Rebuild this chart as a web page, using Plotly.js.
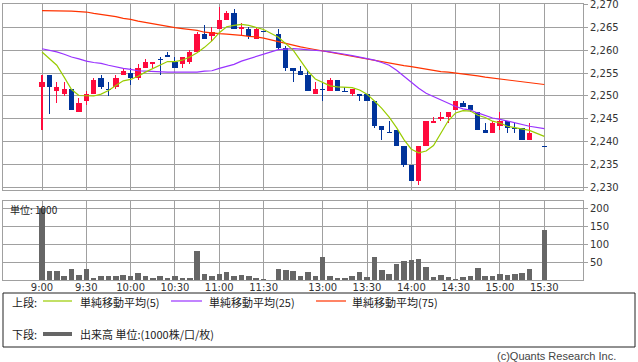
<!DOCTYPE html>
<html><head><meta charset="utf-8">
<script src="https://cdn.plot.ly/plotly-3.0.1.min.js"></script>
<style>html,body{margin:0;padding:0;background:#fff}#c{width:638px;height:362px}</style>
</head><body><div id="c"></div>
<script>
// 5-minute slots (index 31 = lunch gap, 15:25 = no trade)
const times = ['9:00','9:05','9:10','9:15','9:20','9:25','9:30','9:35','9:40','9:45',
 '9:50','9:55','10:00','10:05','10:10','10:15','10:20','10:25','10:30','10:35',
 '10:40','10:45','10:50','10:55','11:00','11:05','11:10','11:15','11:20','11:25',
 '11:30','12:25','12:30','12:35','12:40','12:45','12:50','12:55','13:00','13:05',
 '13:10','13:15','13:20','13:25','13:30','13:35','13:40','13:45','13:50','13:55',
 '14:00','14:05','14:10','14:15','14:20','14:25','14:30','14:35','14:40','14:45',
 '14:50','14:55','15:00','15:05','15:10','15:15','15:20','15:25','15:30'];
const tickLabels = ['9:00','9:30','10:00','10:30','11:00','11:30','13:00','13:30','14:00','14:30','15:00','15:30'];

const open = [2252,2254.5,2251,2250.5,2251.5,2246.5,2249,2250.5,2254,2251.5,
 2252,2254.5,2255,2254,2256,2257,2258,2259,2257.5,2257,
 2257.5,2259.5,2263.5,2263,2264.5,2266.5,2268,2264.5,2264.5,2262.5,
 2264,null,2263.5,2260.5,2256,2255.5,2254.5,2250.5,2251.5,2251,
 2253.5,2251,2250.5,2250.5,2250.5,2249,2243.5,2242,2242.5,2239,
 2235,2231.5,2239,2244,2245,2245.5,2247,2248.5,2248,2246.5,
 2242.5,2242,2243.5,2244.5,2243,2243,2240.5,null,2239];
const high = [2254.5,2254.5,2253,2253,2251.5,2249.5,2251,2254,2254.5,2253,
 2254.5,2256,2256,2257,2258,2257.5,2258.5,2259.5,2258.5,2258.5,
 2260,2264,2265.5,2265,2269.5,2268.5,2269,2266,2265,2265,
 2264,null,2264.5,2261,2256,2256.5,2255.5,2253,2253,2254,
 2253.5,2252,2251.5,2250.5,2250.5,2249,2243.5,2244.5,2242.5,2239,
 2235,2239,2244.5,2245.5,2246.5,2246.5,2249,2249,2248,2246.5,
 2244,2244.5,2246.5,2244.5,2244,2243,2244,null,2239];
const low = [2242.5,2246,2248.5,2250,2247,2246.5,2248,2250.5,2251.5,2250,
 2251.5,2254.5,2252.5,2253.5,2256,2256,2254.5,2258.5,2256,2256,
 2257,2259.5,2262.5,2262,2264.5,2266.5,2264.5,2263,2262.5,2262.5,
 2264,null,2260,2255.5,2253,2254.5,2251,2250.5,2249,2251,
 2251,2251,2250,2249,2249,2243,2240.5,2242,2239,2234.5,
 2231.5,2230.5,2239,2244,2244.5,2244,2247,2247.5,2246.5,2242.5,
 2242,2242,2242.5,2242,2242,2240.5,2240.5,null,2239];
const close = [2253,2252,2252,2251.5,2247,2248.5,2250.5,2253.5,2252,2251.5,
 2254,2255.5,2254,2256,2257.5,2257.5,2258,2258.5,2256,2258.5,
 2259.5,2263.5,2262.5,2264,2266.5,2268,2264.5,2265,2263,2264.5,
 2264,null,2260.5,2256,2255.5,2254.5,2251,2251.5,2251.5,2253.5,
 2251,2251,2251.5,2250,2249,2243.5,2242.5,2242,2239,2235,
 2231.5,2239,2244.5,2244.5,2245.5,2246.5,2249,2247.5,2247,2242.5,
 2242,2244,2244.5,2243,2243,2240.5,2242,null,2239];
const ma5 = [2259.6,2258.2,2256.7,2254.1,2251.4,2250.1,2250.0,2250.0,2250.4,2251.2,
 2252.3,2253.3,2253.6,2254.3,2255.2,2256.0,2256.7,2257.5,2257.5,2257.8,
 2258.5,2259.4,2260.6,2262.0,2263.8,2265.1,2265.4,2265.6,2265.4,2265.0,
 2264.5,null,2262.8,2261.5,2260.0,2257.7,2255.4,2253.7,2252.9,2252.2,
 2252.0,2251.9,2251.8,2251.3,2250.4,2248.9,2247.3,2245.4,2243.1,2240.5,
 2238.4,2237.6,2238.0,2239.2,2241.9,2244.6,2246.3,2246.8,2246.7,2245.8,
 2245.3,2244.5,2244.1,2243.4,2243.1,2242.8,2242.5,null,2241.2];
const ma25 = [2260.3,2260.0,2259.6,2259.1,2258.5,2258.1,2257.6,2257.3,2257.1,2256.7,
 2256.3,2256.0,2255.8,2255.5,2255.4,2255.3,2255.2,2255.2,2255.2,2255.2,
 2255.2,2255.2,2255.4,2255.5,2256.0,2256.5,2256.9,2257.6,2258.1,2258.7,
 2259.2,null,2260.1,2260.2,2260.3,2260.2,2260.1,2260.0,2259.8,2259.6,
 2259.4,2259.1,2258.8,2258.5,2258.2,2257.8,2257.3,2256.7,2255.6,2254.3,
 2252.8,2251.7,2250.6,2249.9,2249.2,2248.4,2247.7,2247.2,2246.9,2246.3,
 2245.8,2245.2,2244.9,2244.5,2244.1,2243.7,2243.4,null,2242.9];
const ma75 = [2268.6,2268.6,2268.6,2268.6,2268.5,2268.4,2268.3,2268.0,2267.8,2267.6,
 2267.3,2266.9,2266.7,2266.3,2266.0,2265.8,2265.4,2265.1,2264.9,2264.7,
 2264.5,2264.3,2263.9,2263.7,2263.6,2263.5,2263.4,2263.2,2263.0,2262.9,
 2262.6,null,2261.8,2261.4,2261.1,2260.7,2260.4,2260.1,2259.9,2259.5,
 2259.2,2258.9,2258.6,2258.3,2258.1,2257.8,2257.5,2257.2,2256.9,2256.6,
 2256.4,2256.1,2255.8,2255.5,2255.3,2255.2,2255.0,2254.9,2254.7,2254.4,
 2254.1,2253.9,2253.8,2253.6,2253.4,2253.2,2253.0,null,2252.5];
const volume = [203,26,26,12,32,15,32,7,10,10,
 10,15,10,20,10,7,10,7,10,6,
 6,82,18,12,17,23,12,14,10,5,
 2,null,30,29,26,10,23,12,65,12,
 6,6,12,23,9,65,29,18,46,54,
 57,60,37,9,15,9,4,9,12,34,
 12,12,17,14,17,19,32,null,141];
const priceTicks = [2230,2235,2240,2245,2250,2255,2260,2265,2270];
const volTicks = [50,100,150,200];

const RED = '#ff0a3c', BLUE = '#00339a', GRID = '#a0a0a0';
const MINH = 0.25;
const col = close.map((c,i)=> c==null ? null : (c > open[i] ? RED : BLUE));
const bodyBase = open.map((o,i)=>{ if(o==null) return null; const d=Math.abs(close[i]-o); const m=Math.min(o,close[i]); return d<MINH ? m-(MINH-d)/2 : m; });
const bodyLen = open.map((o,i)=> o==null ? null : Math.max(Math.abs(close[i]-o), MINH));
const wickLen = high.map((h,i)=> h==null ? null : h-low[i]);

const traces = [
 {type:'bar', x:times, y:wickLen, base:low, width:0.14, marker:{color:col, line:{width:0}}, xaxis:'x2', yaxis:'y2', hoverinfo:'skip'},
 {type:'bar', x:times, y:bodyLen, base:bodyBase, width:0.72, marker:{color:col, line:{width:0}}, xaxis:'x2', yaxis:'y2', hoverinfo:'skip'},
 {type:'scatter', mode:'lines', x:times, y:ma75, connectgaps:true, line:{color:'#ff3300', width:1.2}, xaxis:'x2', yaxis:'y2'},
 {type:'scatter', mode:'lines', x:times, y:ma25, connectgaps:true, line:{color:'#9933ff', width:1.2}, xaxis:'x2', yaxis:'y2'},
 {type:'scatter', mode:'lines', x:times, y:ma5, connectgaps:true, line:{color:'#99cc00', width:1.2}, xaxis:'x2', yaxis:'y2'},
 {type:'bar', x:times, y:volume, width:0.75, marker:{color:'#666666', line:{width:0}}, xaxis:'x', yaxis:'y'}
];

const W=580, H=276, L=3, B=280;
const xp = px => (px-L)/W, yp = py => (B-py)/H;
const cjk = {family:'"Noto Sans CJK JP", sans-serif', size:11, color:'#222'};
const xcommon = {type:'category', categoryorder:'array', categoryarray:times, range:[-5.28,73.24],
  showgrid:true, gridcolor:GRID, gridwidth:1, showline:true, mirror:true, linecolor:GRID, linewidth:1,
  zeroline:false, ticks:'', fixedrange:true, tickmode:'array', tickvals:tickLabels, ticktext:tickLabels};

const layout = {
 width:638, height:362, margin:{l:3, r:55, t:4, b:82, pad:0},
 paper_bgcolor:'#fff', plot_bgcolor:'#fff', showlegend:false, barmode:'overlay', bargap:0,
 font:{family:'"DejaVu Sans", sans-serif', size:10, color:'#333'},
 xaxis:Object.assign({}, xcommon, {anchor:'y', domain:[0,1], showticklabels:true, ticklabelstandoff:-2, tickfont:{size:10, color:'#333'}}),
 xaxis2:Object.assign({}, xcommon, {anchor:'y2', domain:[0,1], showticklabels:false}),
 yaxis:{domain:[0, yp(201)], range:[0,222.5], side:'right', tickmode:'array', tickvals:volTicks,
   showgrid:true, gridcolor:GRID, showline:true, mirror:true, linecolor:GRID, zeroline:false,
   ticks:'outside', ticklen:4, tickcolor:GRID, fixedrange:true, tickfont:{size:10,color:'#333'}},
 yaxis2:{domain:[yp(190), 1], range:[2229.5,2270.05], side:'right', tickmode:'array', tickvals:priceTicks, tickformat:',d',
   ticklabeloverflow:'allow',
   showgrid:true, gridcolor:GRID, showline:true, mirror:true, linecolor:GRID, zeroline:false,
   ticks:'outside', ticklen:4, tickcolor:GRID, fixedrange:true, tickfont:{size:10,color:'#333'}},
 shapes:[
  {type:'rect', xref:'paper', yref:'paper', x0:xp(3), x1:xp(635), y0:yp(293), y1:yp(347), line:{color:'#222', width:1}},
  {type:'line', xref:'paper', yref:'paper', x0:xp(43), x1:xp(72), y0:yp(301), y1:yp(301), line:{color:'#99cc00', width:1.2}},
  {type:'line', xref:'paper', yref:'paper', x0:xp(171), x1:xp(202), y0:yp(301), y1:yp(301), line:{color:'#9933ff', width:1.2}},
  {type:'line', xref:'paper', yref:'paper', x0:xp(316), x1:xp(346), y0:yp(301), y1:yp(301), line:{color:'#ff3300', width:1.2}},
  {type:'line', xref:'paper', yref:'paper', x0:xp(43), x1:xp(72), y0:yp(334), y1:yp(334), line:{color:'#666666', width:4}}
 ],
 annotations:[
  {xref:'paper', yref:'paper', x:xp(10), y:yp(302), xanchor:'left', yanchor:'middle', text:'上段:', showarrow:false, font:cjk},
  {xref:'paper', yref:'paper', x:xp(78), y:yp(302), xanchor:'left', yanchor:'middle', text:'単純移動平均(5)', showarrow:false, font:cjk},
  {xref:'paper', yref:'paper', x:xp(207), y:yp(302), xanchor:'left', yanchor:'middle', text:'単純移動平均(25)', showarrow:false, font:cjk},
  {xref:'paper', yref:'paper', x:xp(350), y:yp(302), xanchor:'left', yanchor:'middle', text:'単純移動平均(75)', showarrow:false, font:cjk},
  {xref:'paper', yref:'paper', x:xp(10), y:yp(334), xanchor:'left', yanchor:'middle', text:'下段:', showarrow:false, font:cjk},
  {xref:'paper', yref:'paper', x:xp(78), y:yp(334), xanchor:'left', yanchor:'middle', text:'出来高 単位:(1000株/口/枚)', showarrow:false, font:cjk},
  {xref:'paper', yref:'paper', x:xp(8), y:yp(209), xanchor:'left', yanchor:'middle', text:'単位: 1000', showarrow:false, font:{family:'"Noto Sans CJK JP", sans-serif', size:10, color:'#222'}},
  {xref:'paper', yref:'paper', x:xp(618), y:yp(356), xanchor:'right', yanchor:'middle', text:'(c)Quants Research Inc.', showarrow:false, font:{family:'"Liberation Sans", sans-serif', size:11, color:'#444'}}
 ]
};
Plotly.newPlot('c', traces, layout, {staticPlot:true, displayModeBar:false});
</script></body></html>
